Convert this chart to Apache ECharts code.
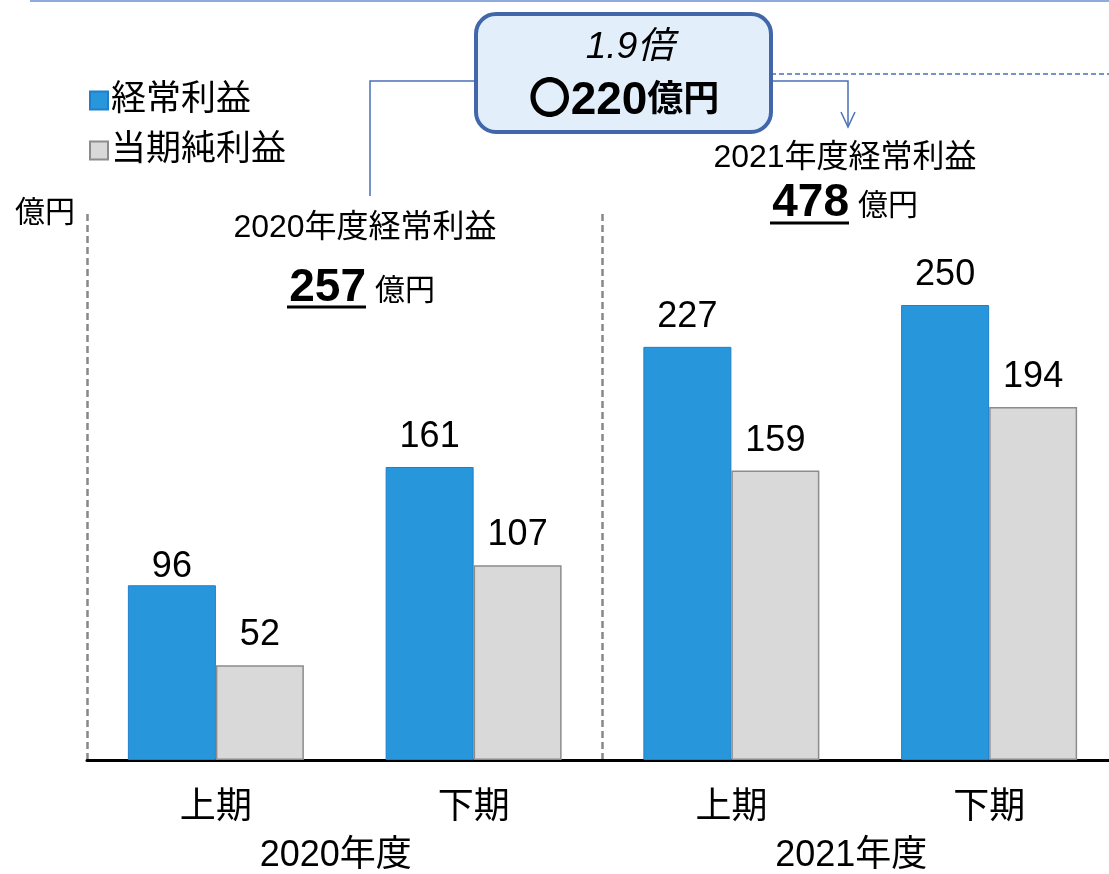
<!DOCTYPE html>
<html>
<head>
<meta charset="utf-8">
<script src="https://cdn.jsdelivr.net/npm/echarts@6/dist/echarts.min.js"></script>
<style>
  html, body { margin: 0; padding: 0; background: #fff; overflow: hidden; }
  #graph { width: 1118px; height: 874px; }
</style>
</head>
<body>
<div id="graph"></div>
<script>
// halves of each fiscal year
const periods = ['上期', '下期', '上期', '下期'];
const years = ['2020年度', '2021年度'];
const ordinaryProfit = [96, 161, 227, 250];
const netProfit = [52, 107, 159, 194];
const seriesNames = ['経常利益', '当期純利益'];

const FONT = '"Liberation Sans", "Noto Sans CJK JP", sans-serif';
const LINE = '#4A70B8';

const dom = document.getElementById('graph');
const chart = echarts.init(dom);

const option = {
  animation: false,
  textStyle: { fontFamily: FONT, color: '#000' },
  grid: { left: 87, top: 214, bottom: 112, right: 0, containLabel: false },
  legend: {
    orient: 'vertical',
    left: 84, top: 78,
    itemWidth: 18, itemHeight: 18, itemGap: 15,
    icon: 'rect',
    textStyle: { fontSize: 35, fontFamily: FONT, color: '#000', padding: [0, 0, 0, -2] },
    data: seriesNames
  },
  xAxis: [
    {
      type: 'category',
      data: periods,
      axisLine: { lineStyle: { color: '#000', width: 3 } },
      axisTick: { show: false },
      axisLabel: { fontSize: 36, color: '#000', margin: 30, fontFamily: FONT }
    },
    {
      type: 'category',
      data: years,
      position: 'bottom',
      axisLine: { show: false },
      axisTick: { show: false },
      axisLabel: { fontSize: 36, color: '#000', margin: 78, fontFamily: FONT, padding: [0, 18, 0, 0] },
      splitLine: { show: true, lineStyle: { color: '#888', width: 2.5, type: [7, 4] } }
    }
  ],
  yAxis: {
    type: 'value',
    min: 0, max: 300,
    axisLine: { show: false },
    axisTick: { show: false },
    axisLabel: { show: false },
    splitLine: { show: false },
    name: '億円',
    nameLocation: 'end',
    nameGap: 0,
    nameTextStyle: { fontSize: 30, color: '#000', align: 'right', verticalAlign: 'middle', padding: [0, 12, 0, 0], fontFamily: FONT }
  },
  series: [
    {
      name: seriesNames[0],
      type: 'bar',
      data: ordinaryProfit.map((v, i) => i === 0 ? { value: v, label: { distance: 0 } } : v),
      barWidth: 88,
      barGap: '0%',
      itemStyle: { color: '#2796DB', borderColor: '#1E7FCB', borderWidth: 1 },
      label: { show: true, position: 'top', distance: 12, fontSize: 36, color: '#000', fontFamily: FONT }
    },
    {
      name: seriesNames[1],
      type: 'bar',
      data: netProfit,
      barWidth: 88,
      itemStyle: { color: '#D9D9D9', borderColor: '#8C8C8C', borderWidth: 1.5 },
      label: { show: true, position: 'top', distance: 12, fontSize: 36, color: '#000', fontFamily: FONT }
    }
  ],
  graphic: [
    { type: 'line', shape: { x1: 30, y1: 1, x2: 1109, y2: 1 }, style: { stroke: '#8FAADC', lineWidth: 2 } },
    // connectors around the callout
    { type: 'polyline', shape: { points: [[476, 81], [370, 81], [370, 196]] }, style: { stroke: LINE, lineWidth: 1.5, fill: null } },
    { type: 'polyline', shape: { points: [[771, 81], [848, 81], [848, 126]] }, style: { stroke: LINE, lineWidth: 1.5, fill: null } },
    { type: 'polyline', shape: { points: [[841, 112], [848, 127], [855, 112]] }, style: { stroke: LINE, lineWidth: 1.5, fill: null } },
    { type: 'line', shape: { x1: 771, y1: 74, x2: 1109, y2: 74 }, style: { stroke: LINE, lineWidth: 1.5, lineDash: [5, 3] } },
    // callout box
    { type: 'rect', shape: { x: 476, y: 14, width: 295, height: 118, r: 20 }, style: { fill: '#E2EFFA', stroke: '#4167AA', lineWidth: 4 } },
    { type: 'text', style: { x: 630, y: 48, text: '1.9倍', fontSize: 37, fontStyle: 'italic', fontFamily: FONT, fill: '#000', align: 'center', verticalAlign: 'middle' } },
    {
      type: 'text',
      style: {
        x: 624, y: 101, text: '{c|〇}{d|220}{e|億円}', align: 'center', verticalAlign: 'middle',
        rich: {
          c: { fontSize: 42, fontWeight: 'bold', fontFamily: FONT, fill: '#000' },
          d: { fontSize: 46, fontWeight: 'bold', fontFamily: FONT, fill: '#000' },
          e: { fontSize: 36, fontWeight: 'bold', fontFamily: FONT, fill: '#000' }
        }
      }
    },
    // yearly totals
    { type: 'text', style: { x: 365, y: 228, text: '2020年度経常利益', fontSize: 32, fontFamily: FONT, fill: '#000', align: 'center', verticalAlign: 'middle' } },
    { type: 'text', style: { x: 366, y: 288, text: '257', fontSize: 46, fontWeight: 'bold', fontFamily: FONT, fill: '#000', align: 'right', verticalAlign: 'middle' } },
    { type: 'text', style: { x: 375, y: 292, text: '億円', fontSize: 30, fontFamily: FONT, fill: '#000', align: 'left', verticalAlign: 'middle' } },
    { type: 'line', shape: { x1: 287, y1: 307, x2: 366, y2: 307 }, style: { stroke: '#000', lineWidth: 3 } },
    { type: 'text', style: { x: 845, y: 158, text: '2021年度経常利益', fontSize: 32, fontFamily: FONT, fill: '#000', align: 'center', verticalAlign: 'middle' } },
    { type: 'text', style: { x: 849, y: 203, text: '478', fontSize: 46, fontWeight: 'bold', fontFamily: FONT, fill: '#000', align: 'right', verticalAlign: 'middle' } },
    { type: 'text', style: { x: 858, y: 207, text: '億円', fontSize: 30, fontFamily: FONT, fill: '#000', align: 'left', verticalAlign: 'middle' } },
    { type: 'line', shape: { x1: 770, y1: 223, x2: 849, y2: 223 }, style: { stroke: '#000', lineWidth: 3 } }
  ]
};

chart.setOption(option);
</script>
</body>
</html>
